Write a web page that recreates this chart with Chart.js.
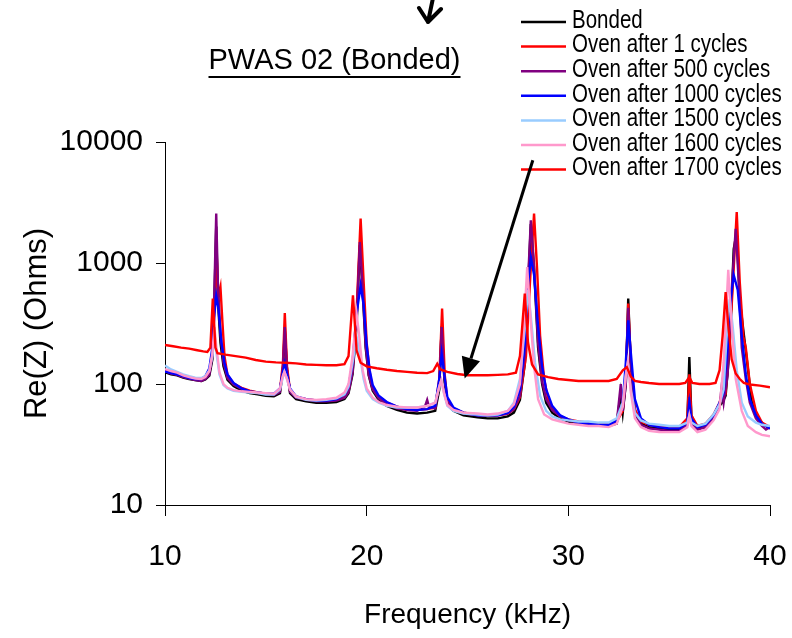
<!DOCTYPE html>
<html>
<head>
<meta charset="utf-8">
<script src="https://cdn.jsdelivr.net/npm/chart.js@4"></script>
<style>
  html, body { margin: 0; padding: 0; background: #fff; }
  canvas { display: block; }
</style>
</head>
<body>
<canvas id="c" width="792" height="638"></canvas>
<script>
// ---- data (frequency kHz, Re(Z) Ohms) ----
const seriesLabels = [
  'Bonded',
  'Oven after 1 cycles',
  'Oven after 500 cycles',
  'Oven after 1000 cycles',
  'Oven after 1500 cycles',
  'Oven after 1600 cycles',
  'Oven after 1700 cycles'
];
const xTicks = [10, 20, 30, 40];
const yTicks = [10, 100, 1000, 10000];

const bonded = [[10.0,125],[10.3,120],[10.6,118],[10.9,113],[11.2,110],[11.5,108],[11.8,106],[12.0,109],[12.2,117],[12.35,160],[12.45,500],[12.54,2000],[12.62,500],[12.75,220],[12.9,140],[13.1,108],[13.4,96],[13.8,88],[14.2,84],[14.6,82],[15.0,80],[15.4,79],[15.7,84],[15.85,130],[15.94,280],[16.05,130],[16.2,84],[16.5,75],[17.0,72],[17.5,70],[18.0,70],[18.5,71],[18.9,75],[19.1,84],[19.3,120],[19.5,300],[19.66,1400],[19.8,600],[19.95,200],[20.1,118],[20.3,88],[20.6,74],[21.0,66],[21.5,61],[22.0,58],[22.5,57],[23.0,58],[23.4,60],[23.6,90],[23.72,300],[23.85,110],[24.0,68],[24.3,60],[24.8,55],[25.5,53],[26.0,52],[26.5,52],[27.0,54],[27.3,58],[27.6,74],[27.85,150],[28.0,600],[28.14,2100],[28.3,900],[28.5,200],[28.7,100],[28.9,70],[29.2,58],[29.6,52],[30.0,49],[30.5,47],[31.0,46],[31.5,46],[32.0,45],[32.4,47],[32.6,85],[32.7,58],[32.85,100],[32.97,508],[33.1,140],[33.3,58],[33.6,47],[34.0,44],[34.5,43],[35.0,42],[35.5,42],[35.9,48],[36.0,167],[36.1,55],[36.4,43],[36.8,44],[37.2,54],[37.5,66],[37.65,71],[37.8,80],[38.0,200],[38.2,1300],[38.35,1800],[38.5,500],[38.68,276],[38.85,160],[39.1,70],[39.4,52],[39.7,46],[40.0,43]];

const oven1 = [[10.0,130],[10.3,124],[10.6,121],[10.9,117],[11.2,113],[11.5,110],[11.8,108],[12.0,112],[12.2,125],[12.35,180],[12.45,420],[12.56,1200],[12.65,520],[12.75,630],[12.85,320],[12.95,170],[13.1,118],[13.4,101],[13.8,93],[14.2,88],[14.6,85],[15.0,83],[15.4,82],[15.7,88],[15.85,150],[15.94,386],[16.05,140],[16.2,88],[16.5,78],[17.0,75],[17.5,73],[18.0,73],[18.5,74],[18.9,78],[19.1,88],[19.3,130],[19.5,400],[19.7,2330],[19.85,700],[20.0,220],[20.15,125],[20.3,92],[20.6,78],[21.0,70],[21.5,65],[22.0,62],[22.5,61],[23.0,62],[23.4,64],[23.6,110],[23.74,420],[23.87,120],[24.0,72],[24.3,63],[24.8,58],[25.5,56],[26.0,55],[26.5,55],[27.0,57],[27.3,62],[27.6,78],[27.9,170],[28.1,700],[28.3,2560],[28.45,900],[28.6,250],[28.8,110],[29.0,75],[29.3,60],[29.6,54],[30.0,51],[30.5,49],[31.0,48],[31.5,47],[32.0,47],[32.4,49],[32.7,60],[32.85,110],[32.97,462],[33.1,150],[33.3,62],[33.6,49],[34.0,46],[34.5,45],[35.0,44],[35.5,44],[35.9,52],[36.0,120],[36.1,55],[36.4,45],[36.8,47],[37.2,56],[37.5,70],[37.65,90],[37.8,85],[38.0,220],[38.2,900],[38.35,2640],[38.5,700],[38.68,245],[38.8,200],[39.0,100],[39.3,60],[39.6,48],[40.0,44]];

const oven500 = [[10.0,128],[10.3,122],[10.6,119],[10.9,114],[11.2,111],[11.5,108],[11.8,106],[12.0,110],[12.2,120],[12.35,170],[12.45,600],[12.54,2560],[12.62,700],[12.75,260],[12.9,150],[13.1,112],[13.4,99],[13.8,91],[14.2,86],[14.6,84],[15.0,82],[15.4,81],[15.7,86],[15.85,140],[15.94,295],[16.05,130],[16.2,86],[16.5,77],[17.0,74],[17.5,72],[18.0,72],[18.5,73],[18.9,77],[19.1,86],[19.3,125],[19.5,330],[19.66,1490],[19.8,620],[19.95,210],[20.1,120],[20.3,90],[20.6,76],[21.0,68],[21.5,63],[22.0,61],[22.5,60],[22.9,66],[23.0,74],[23.1,64],[23.4,63],[23.6,100],[23.72,295],[23.85,115],[24.0,70],[24.3,62],[24.8,57],[25.5,55],[26.0,55],[26.5,55],[27.0,57],[27.3,62],[27.6,80],[27.85,180],[28.0,700],[28.14,2255],[28.3,950],[28.5,220],[28.7,105],[28.9,75],[29.2,61],[29.6,54],[30.0,50],[30.5,48],[31.0,47],[31.5,46],[32.0,45],[32.4,48],[32.6,100],[32.7,60],[32.85,100],[32.97,427],[33.1,140],[33.3,58],[33.6,46],[34.0,43],[34.5,42],[35.0,41],[35.5,41],[35.9,46],[36.0,78],[36.1,48],[36.4,42],[36.8,44],[37.2,52],[37.5,65],[37.6,94],[37.7,70],[37.9,120],[38.1,600],[38.3,1920],[38.45,700],[38.6,200],[38.8,110],[39.0,70],[39.3,52],[39.6,45],[39.8,42],[40.0,44]];

const oven1000 = [[10.0,127],[10.3,123],[10.6,120],[10.9,116],[11.2,112],[11.5,110],[11.8,110],[12.0,116],[12.2,135],[12.35,200],[12.45,380],[12.54,541],[12.65,420],[12.8,220],[12.95,150],[13.1,120],[13.4,102],[13.8,92],[14.2,87],[14.6,85],[15.0,83],[15.4,83],[15.7,92],[15.85,125],[15.94,148],[16.05,120],[16.2,92],[16.5,79],[17.0,75],[17.5,73],[18.0,73],[18.5,75],[18.9,82],[19.1,95],[19.3,150],[19.5,380],[19.7,655],[19.85,450],[20.0,210],[20.15,130],[20.3,98],[20.6,80],[21.0,71],[21.5,65],[22.0,62],[22.5,61],[23.0,62],[23.4,66],[23.6,110],[23.72,178],[23.85,120],[24.0,78],[24.3,64],[24.8,58],[25.5,55],[26.0,55],[26.5,55],[27.0,58],[27.3,65],[27.6,90],[27.85,220],[28.0,650],[28.14,1122],[28.3,800],[28.5,300],[28.7,140],[28.9,90],[29.2,66],[29.6,55],[30.0,51],[30.5,48],[31.0,47],[31.5,46],[32.0,46],[32.4,50],[32.7,70],[32.85,150],[32.97,336],[33.1,180],[33.3,75],[33.6,52],[34.0,46],[34.5,44],[35.0,43],[35.5,43],[35.9,48],[36.0,70],[36.1,52],[36.4,44],[36.8,46],[37.2,55],[37.5,70],[37.7,85],[37.9,200],[38.05,500],[38.2,795],[38.4,600],[38.6,250],[38.8,120],[39.0,75],[39.3,55],[39.6,47],[40.0,43]];

const oven1500 = [[10.0,142],[10.3,132],[10.6,126],[10.9,120],[11.2,116],[11.5,113],[11.8,112],[12.0,116],[12.2,130],[12.35,170],[12.45,245],[12.55,180],[12.7,120],[12.9,98],[13.1,92],[13.4,88],[13.8,86],[14.2,85],[14.6,84],[15.0,82],[15.4,82],[15.7,90],[15.85,115],[15.92,126],[16.05,110],[16.2,90],[16.5,78],[17.0,74],[17.5,73],[18.0,74],[18.5,76],[18.9,82],[19.1,95],[19.3,150],[19.5,245],[19.65,180],[19.85,110],[20.0,88],[20.3,75],[20.6,70],[21.0,66],[21.5,64],[22.0,64],[22.5,64],[23.0,66],[23.4,70],[23.6,95],[23.7,107],[23.85,82],[24.0,66],[24.3,60],[24.8,57],[25.5,56],[26.0,55],[26.5,56],[27.0,60],[27.3,70],[27.6,110],[27.85,300],[28.0,600],[28.15,350],[28.35,150],[28.6,80],[28.9,60],[29.2,54],[29.6,51],[30.0,50],[30.5,49],[31.0,49],[31.5,48],[32.0,48],[32.4,52],[32.7,70],[32.85,120],[32.95,151],[33.1,90],[33.3,58],[33.6,50],[34.0,47],[34.5,46],[35.0,45],[35.5,45],[35.9,48],[36.0,55],[36.1,48],[36.4,45],[36.8,47],[37.2,56],[37.5,68],[37.7,90],[37.85,250],[38.0,500],[38.15,300],[38.35,130],[38.6,70],[38.9,54],[39.3,48],[39.6,46],[40.0,45]];

const oven1600 = [[10.0,133],[10.3,128],[10.6,124],[10.9,118],[11.2,114],[11.5,111],[11.8,110],[12.0,114],[12.2,128],[12.35,180],[12.45,295],[12.55,200],[12.7,125],[12.9,100],[13.1,93],[13.4,89],[13.8,87],[14.2,86],[14.6,85],[15.0,84],[15.4,83],[15.7,92],[15.85,118],[15.92,126],[16.05,110],[16.2,90],[16.5,79],[17.0,75],[17.5,74],[18.0,75],[18.5,77],[18.9,85],[19.1,100],[19.3,170],[19.5,383],[19.62,260],[19.8,130],[20.0,92],[20.3,77],[20.6,71],[21.0,67],[21.5,65],[22.0,64],[22.5,64],[23.0,66],[23.4,70],[23.6,95],[23.7,107],[23.85,82],[24.0,67],[24.3,61],[24.8,58],[25.5,57],[26.0,56],[26.5,57],[27.0,60],[27.3,68],[27.6,100],[27.8,300],[27.96,927],[28.1,400],[28.3,140],[28.5,75],[28.8,56],[29.2,51],[29.6,49],[30.0,47],[30.5,46],[31.0,45],[31.5,45],[32.0,44],[32.4,47],[32.7,65],[32.85,115],[32.95,151],[33.1,85],[33.3,52],[33.6,44],[34.0,41],[34.5,40],[35.0,40],[35.5,40],[35.9,44],[36.0,55],[36.1,45],[36.4,40],[36.8,42],[37.2,50],[37.5,62],[37.7,150],[37.93,880],[38.1,300],[38.3,110],[38.6,60],[38.9,45],[39.3,40],[39.6,38],[40.0,37]];

const oven1700 = [[10.0,210],[10.4,205],[10.8,200],[11.2,196],[11.6,190],[11.9,186],[12.1,184],[12.25,200],[12.37,508],[12.5,200],[12.6,180],[13.0,175],[13.5,170],[14.0,165],[14.5,158],[15.0,153],[15.5,151],[16.0,150],[16.5,148],[17.0,145],[17.5,144],[18.0,143],[18.5,143],[18.9,146],[19.1,170],[19.32,541],[19.5,190],[19.7,150],[20.0,140],[20.5,135],[21.0,131],[21.5,128],[22.0,126],[22.5,124],[23.0,123],[23.3,128],[23.5,147],[23.65,132],[24.0,126],[24.5,121],[25.0,118],[25.5,118],[26.0,118],[26.5,119],[27.0,120],[27.4,124],[27.6,170],[27.84,559],[28.0,220],[28.2,145],[28.5,120],[29.0,114],[29.5,110],[30.0,108],[30.5,106],[31.0,106],[31.5,106],[32.0,106],[32.4,110],[32.7,130],[32.9,138],[33.1,115],[33.3,106],[33.6,104],[34.0,102],[34.5,100],[35.0,100],[35.5,100],[35.8,102],[36.0,114],[36.15,102],[36.5,100],[37.0,100],[37.3,102],[37.5,130],[37.65,250],[37.8,575],[37.95,280],[38.1,160],[38.3,122],[38.5,110],[38.7,102],[39.0,99],[39.5,97],[40.0,94]];

const seriesData = [bonded, oven1, oven500, oven1000, oven1500, oven1600, oven1700];
const seriesColors = ['#000000', '#ff0000', '#800080', '#0000ff', '#99ccff', '#ff99cc', '#ff0000'];

const chartTitle = 'PWAS 02 (Bonded)';
const FONT = '"Liberation Sans", Arial, Helvetica, sans-serif';

Chart.defaults.font.family = FONT;
Chart.defaults.color = '#000';

// custom annotations: title, legend, arrows
const decorPlugin = {
  id: 'decor',
  afterDraw(chart) {
    const ctx = chart.ctx;
    const xs = chart.scales.x, ys = chart.scales.y;
    ctx.save();
    // title with underline
    ctx.font = '29px ' + FONT;
    ctx.fillStyle = '#000';
    ctx.textAlign = 'center';
    ctx.textBaseline = 'alphabetic';
    const tcx = 334.5, tby = 69;
    ctx.fillText(chartTitle, tcx, tby);
    const tw = ctx.measureText(chartTitle).width;
    ctx.strokeStyle = '#000';
    ctx.lineWidth = 2;
    ctx.beginPath();
    ctx.moveTo(tcx - tw / 2, 77);
    ctx.lineTo(tcx + tw / 2, 77);
    ctx.stroke();

    // legend (narrow-looking text: horizontally condensed)
    ctx.font = '25px ' + FONT;
    ctx.textAlign = 'left';
    ctx.textBaseline = 'middle';
    chart.data.datasets.forEach((ds, i) => {
      const y = 22 + i * 24.6;
      ctx.strokeStyle = ds.borderColor;
      ctx.lineWidth = 2.5;
      ctx.beginPath();
      ctx.moveTo(521, y);
      ctx.lineTo(566, y);
      ctx.stroke();
      ctx.save();
      ctx.translate(572, y - 1);
      ctx.scale(0.82, 1);
      ctx.fillStyle = '#000';
      ctx.fillText(ds.label, 0, 0);
      ctx.restore();
    });

    // long arrow pointing at the 1700-cycle curve
    const x0 = xs.getPixelForValue(28.24), y0 = ys.getPixelForValue(7066);
    const x1 = xs.getPixelForValue(24.86), y1 = ys.getPixelForValue(111);
    const ang = Math.atan2(y1 - y0, x1 - x0);
    const hl = 21, hw = 9.5;
    const bx = x1 - hl * Math.cos(ang), by = y1 - hl * Math.sin(ang);
    ctx.strokeStyle = '#000';
    ctx.lineWidth = 3;
    ctx.lineCap = 'butt';
    ctx.beginPath();
    ctx.moveTo(x0, y0);
    ctx.lineTo(bx, by);
    ctx.stroke();
    ctx.fillStyle = '#000';
    ctx.beginPath();
    ctx.moveTo(x1, y1);
    ctx.lineTo(bx + hw * Math.sin(ang), by - hw * Math.cos(ang));
    ctx.lineTo(bx - hw * Math.sin(ang), by + hw * Math.cos(ang));
    ctx.closePath();
    ctx.fill();

    // small arrow at top (cut off)
    ctx.lineWidth = 4;
    ctx.lineCap = 'round';
    ctx.lineJoin = 'round';
    ctx.beginPath();
    ctx.moveTo(433, -2);
    ctx.lineTo(428, 22);
    ctx.moveTo(419, 8);
    ctx.lineTo(428, 22);
    ctx.lineTo(441, 9);
    ctx.stroke();
    ctx.restore();
  }
};

const datasets = seriesData.map((pts, i) => ({
  label: seriesLabels[i],
  data: pts.map(p => ({ x: p[0], y: p[1] })),
  borderColor: seriesColors[i],
  backgroundColor: seriesColors[i],
  borderWidth: 2.4,
  pointRadius: 0,
  tension: 0,
  fill: false,
  order: seriesData.length - 1 - i
}));

new Chart(document.getElementById('c'), {
  type: 'line',
  data: { datasets },
  options: {
    responsive: false,
    animation: false,
    events: [],
    layout: { padding: { top: 142, right: 22, left: 0, bottom: 0 } },
    plugins: { legend: { display: false }, tooltip: { enabled: false }, title: { display: false } },
    scales: {
      x: {
        type: 'linear', min: 10, max: 40,
        afterBuildTicks: s => { s.ticks = xTicks.map(v => ({ value: v })); },
        afterFit: s => { s.height = 133; s.paddingLeft = 16; s.paddingRight = 16; },
        ticks: { font: { size: 30 }, color: '#000', padding: 23, maxRotation: 0 },
        grid: { drawOnChartArea: false, drawTicks: true, tickLength: 11, color: '#000', lineWidth: 1 },
        border: { display: true, color: '#000', width: 1 },
        title: { display: true, text: 'Frequency (kHz)', font: { size: 28 }, color: '#000', padding: { top: 0, bottom: 6 } }
      },
      y: {
        type: 'logarithmic', min: 10, max: 10000,
        afterBuildTicks: s => { s.ticks = yTicks.map(v => ({ value: v })); },
        afterFit: s => { s.width = 165; },
        ticks: { font: { size: 30 }, color: '#000', padding: 13, callback: v => String(v) },
        grid: { drawOnChartArea: false, drawTicks: true, tickLength: 9, color: '#000', lineWidth: 1 },
        border: { display: true, color: '#000', width: 1 },
        title: { display: true, text: 'Re(Z) (Ohms)', font: { size: 31 }, color: '#000', padding: { top: 19, bottom: 0 } }
      }
    }
  },
  plugins: [decorPlugin]
});
</script>
</body>
</html>
